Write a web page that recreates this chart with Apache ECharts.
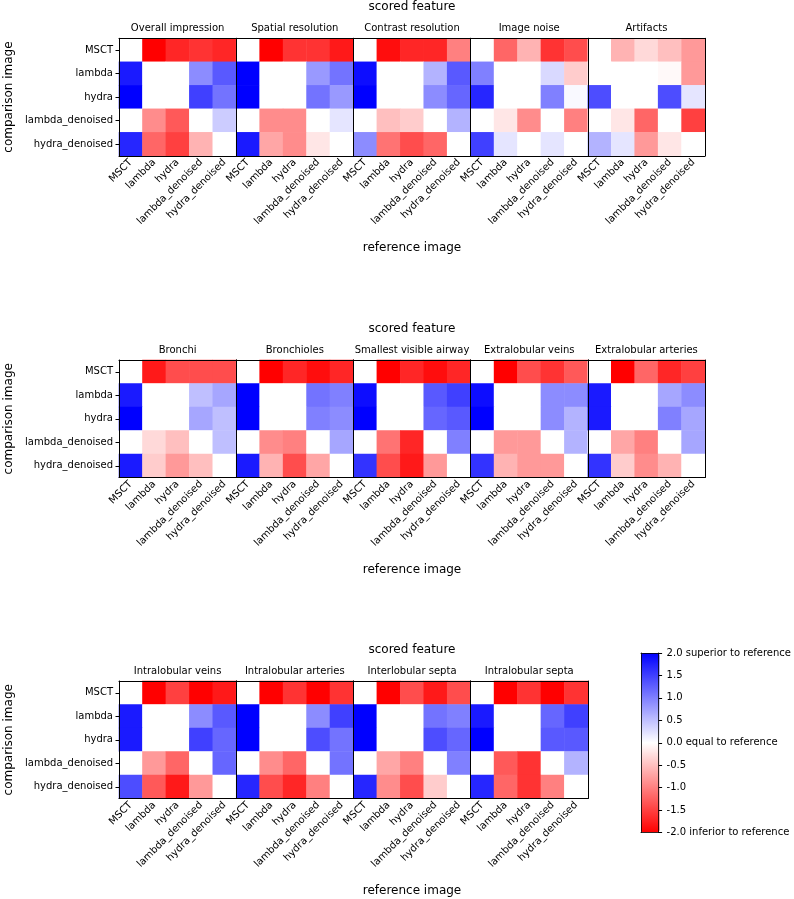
<!DOCTYPE html>
<html>
<head>
<meta charset="utf-8">
<script src="https://cdn.jsdelivr.net/npm/echarts@6/dist/echarts.min.js"></script>
<style>
html, body { margin: 0; padding: 0; background: #fff; }
#chart { width: 794px; height: 899px; }
</style>
</head>
<body>
<div id="chart"></div>
<script>
// images compared (rows = comparison image, columns = reference image)
const images = ['MSCT', 'lambda', 'hydra', 'lambda_denoised', 'hydra_denoised']
const cbarTicks = [-2, -1.5, -1, -0.5, 0, 0.5, 1, 1.5, 2]
const cbarNotes = { '2.0': ' superior to reference', '0.0': ' equal to reference', '-2.0': ' inferior to reference' }

// mean score per feature, one row per comparison image
const overallImpression = [[0, -2.0, -1.7, -1.6, -1.7], [1.8, 0, 0, 0.9, 1.3], [2.0, 0, 0, 1.5, 1.1], [0, -0.9, -1.3, 0, 0.4], [1.7, -1.2, -1.5, -0.6, 0]]
const spatialResolution = [[0, -2.0, -1.6, -1.6, -1.8], [2.0, 0, 0, 0.8, 1.1], [2.0, 0, 0, 1.1, 0.8], [0, -0.9, -0.9, 0, 0.2], [1.8, -0.7, -0.9, -0.2, 0]]
const contrastResolution = [[0, -1.9, -1.7, -1.7, -1.0], [1.9, 0, 0, 0.6, 1.3], [2.0, 0, 0, 0.9, 1.2], [0, -0.5, -0.4, 0, 0.6], [0.9, -1.1, -1.4, -1.2, 0]]
const imageNoise = [[0, -1.2, -0.6, -1.6, -1.4], [1.0, 0, 0, 0.3, -0.4], [1.7, 0, 0, 1.0, 0.05], [0, -0.2, -0.9, 0, -1.0], [1.5, 0.2, 0, 0.2, 0]]
const artifacts = [[0, -0.6, -0.3, -0.5, -0.8], [0, 0, 0, -0.05, -0.8], [1.4, 0, 0, 1.4, 0.2], [0, -0.2, -1.2, 0, -1.5], [0.6, 0.2, -0.8, -0.2, 0]]
const bronchi = [[0, -1.8, -1.4, -1.4, -1.4], [1.8, 0, 0, 0.5, 0.7], [2.0, 0, 0, 0.7, 0.5], [0, -0.3, -0.5, 0, 0.5], [1.8, -0.4, -0.8, -0.5, 0]]
const bronchioles = [[0, -2.0, -1.7, -1.9, -1.7], [2.0, 0, 0, 1.1, 1.0], [2.0, 0, 0, 1.0, 0.9], [0, -0.9, -1.0, 0, 0.7], [1.8, -0.6, -1.4, -0.7, 0]]
const smallestAirway = [[0, -2.0, -1.7, -1.9, -1.7], [1.9, 0, 0, 1.3, 1.5], [2.0, 0, 0, 1.2, 1.3], [0, -1.1, -1.7, 0, 1.0], [1.6, -1.4, -1.8, -0.8, 0]]
const extralobularVeins = [[0, -2.0, -1.4, -1.6, -1.3], [1.9, 0, 0, 0.9, 0.9], [2.0, 0, 0, 0.9, 0.6], [0, -0.8, -0.8, 0, 0.6], [1.6, -0.6, -0.8, -0.8, 0]]
const extralobularArteries = [[0, -2.0, -1.2, -1.7, -1.5], [1.8, 0, 0, 0.7, 0.9], [1.8, 0, 0, 1.0, 0.7], [0, -0.7, -1.0, 0, 0.7], [1.6, -0.4, -0.9, -0.6, 0]]
const intralobularVeins = [[0, -2.0, -1.5, -2.0, -1.8], [1.8, 0, 0, 0.9, 1.3], [1.8, 0, 0, 1.5, 1.2], [0, -0.8, -1.2, 0, 1.2], [1.4, -1.3, -1.8, -0.8, 0]]
const intralobularArteries = [[0, -2.0, -1.6, -2.0, -1.6], [2.0, 0, 0, 0.9, 1.5], [2.0, 0, 0, 1.4, 1.1], [0, -0.9, -1.2, 0, 1.1], [1.7, -1.4, -1.7, -1.0, 0]]
const interlobularSepta = [[0, -2.0, -1.4, -1.8, -1.4], [2.0, 0, 0, 1.1, 1.0], [2.0, 0, 0, 1.4, 1.2], [0, -0.7, -1.0, 0, 1.0], [1.7, -0.9, -1.4, -0.4, 0]]
const intralobularSepta = [[0, -2.0, -1.6, -2.0, -1.6], [1.8, 0, 0, 1.2, 1.5], [2.0, 0, 0, 1.3, 1.3], [0, -1.3, -1.6, 0, 0.6], [1.7, -1.2, -1.6, -1.0, 0]]

const featureRows = [
    [['Overall impression', overallImpression], ['Spatial resolution', spatialResolution], ['Contrast resolution', contrastResolution], ['Image noise', imageNoise], ['Artifacts', artifacts]],
    [['Bronchi', bronchi], ['Bronchioles', bronchioles], ['Smallest visible airway', smallestAirway], ['Extralobular veins', extralobularVeins], ['Extralobular arteries', extralobularArteries]],
    [['Intralobular veins', intralobularVeins], ['Intralobular arteries', intralobularArteries], ['Interlobular septa', interlobularSepta], ['Intralobular septa', intralobularSepta]]
]

const font = 'DejaVu Sans'
const fs = 10
const panelLeft = 119
const panelW = 117.2
const panelH = 117.5
const rowTops = [38.3, 360, 681]

let grids = [], xAxes = [], yAxes = [], series = [], graphics = []
let line = { show: true, lineStyle: { color: '#000', width: 1 } }

featureRows.forEach((row, r) => {
    let top = rowTops[r]
    row.forEach((f, c) => {
        let g = grids.length
        grids.push({ left: panelLeft + c * panelW, top: top, width: panelW, height: panelH })
        let xi = xAxes.length
        xAxes.push({
            type: 'category', gridIndex: g, data: images, position: 'bottom', z: 5,
            axisLine: line,
            axisTick: { alignWithLabel: true, length: 3.5, lineStyle: { color: '#000' } },
            axisLabel: { rotate: 45, interval: 0, margin: 5, color: '#000', fontFamily: font, fontSize: fs },
            splitLine: { show: false }
        })
        xAxes.push({
            type: 'category', gridIndex: g, data: [f[0]], position: 'top', z: 5,
            axisLine: line,
            axisTick: { alignWithLabel: true, length: 3.5, lineStyle: { color: '#000' } },
            axisLabel: { margin: 5, color: '#000', fontFamily: font, fontSize: fs },
            splitLine: { show: false }
        })
        let yi = yAxes.length
        yAxes.push({
            type: 'category', gridIndex: g, data: images, inverse: true, position: 'left', z: 5,
            axisLine: line,
            axisTick: { show: c === 0, alignWithLabel: true, length: 3.5, lineStyle: { color: '#000' } },
            axisLabel: { show: c === 0, margin: 6, color: '#000', fontFamily: font, fontSize: fs },
            name: c === 0 ? 'comparison image' : '',
            nameLocation: 'middle', nameGap: 104,
            nameTextStyle: { color: '#000', fontFamily: font, fontSize: 12 },
            splitLine: { show: false }
        })
        yAxes.push({
            type: 'category', gridIndex: g, data: images, inverse: true, position: 'right', z: 5,
            axisLine: line, axisTick: { show: false }, axisLabel: { show: false }, splitLine: { show: false }
        })
        let data = []
        f[1].forEach((vals, yIdx) => vals.forEach((v, xIdx) => data.push([xIdx, yIdx, v])))
        series.push({
            type: 'heatmap', xAxisIndex: xi, yAxisIndex: yi, data: data,
            itemStyle: { borderWidth: 0 }, emphasis: { disabled: true }, progressive: 0
        })
    })
    let midX = panelLeft + 2.5 * panelW
    graphics.push({ type: 'text', x: midX, y: top - 31.5, style: { text: 'scored feature', font: '12px "DejaVu Sans"', fill: '#000', textAlign: 'center', textVerticalAlign: 'middle' } })
    graphics.push({ type: 'text', x: midX, y: top + 209.5, style: { text: 'reference image', font: '12px "DejaVu Sans"', fill: '#000', textAlign: 'center', textVerticalAlign: 'middle' } })
})

// colorbar axis
let cg = grids.length
let cbLine = { show: true, onZero: false, lineStyle: { color: '#000', width: 0.8 } }
grids.push({ left: 641, top: 653, width: 18.6, height: 179.6, z: 10 })
xAxes.push({ type: 'value', gridIndex: cg, min: 0, max: 1, position: 'bottom', z: 10, axisLine: cbLine, axisTick: { show: false }, axisLabel: { show: false }, splitLine: { show: false } })
xAxes.push({ type: 'value', gridIndex: cg, min: 0, max: 1, position: 'top', z: 10, axisLine: cbLine, axisTick: { show: false }, axisLabel: { show: false }, splitLine: { show: false } })
yAxes.push({ type: 'value', gridIndex: cg, min: cbarTicks[0], max: cbarTicks[cbarTicks.length - 1], interval: 0.5, position: 'left', z: 10, axisLine: cbLine, axisTick: { show: false }, axisLabel: { show: false }, splitLine: { show: false } })
yAxes.push({
    type: 'value', gridIndex: cg, min: cbarTicks[0], max: cbarTicks[cbarTicks.length - 1], interval: 0.5, position: 'right', z: 10,
    axisLine: cbLine,
    axisTick: { length: 3.5, lineStyle: { color: '#000' } },
    axisLabel: {
        margin: 8, color: '#000', fontFamily: font, fontSize: fs,
        formatter: function (v) { let s = v.toFixed(1); if (s === '-0.0') s = '0.0'; return s + (cbarNotes[s] || '') }
    },
    splitLine: { show: false }
})

let option = {
    backgroundColor: '#fff',
    animation: false,
    grid: grids,
    xAxis: xAxes,
    yAxis: yAxes,
    visualMap: {
        type: 'continuous', min: -2, max: 2, calculable: false, seriesIndex: series.map((s, i) => i),
        left: 641, top: 653, itemWidth: 18.6, itemHeight: 179.6, padding: 0, z: 1,
        inRange: { color: ['#ff0000', '#ffffff', '#0000ff'] }
    },
    series: series,
    graphic: graphics
}

let e = echarts.init(document.getElementById('chart'))
e.setOption(option)
</script>
</body>
</html>
